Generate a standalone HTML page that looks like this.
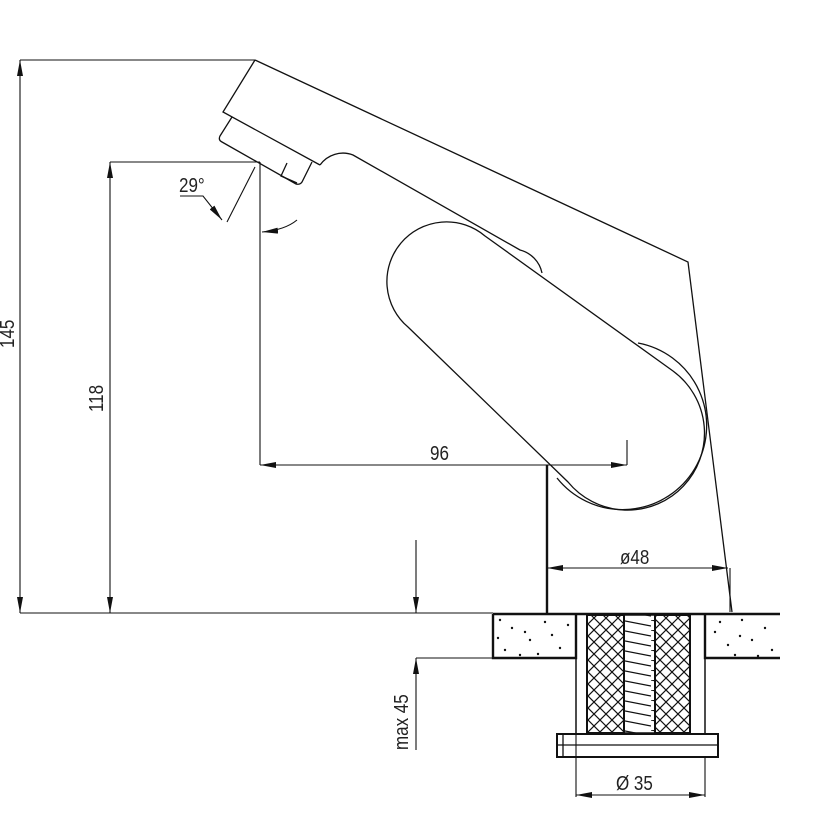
<!DOCTYPE html>
<html><head><meta charset="utf-8"><style>
html,body{margin:0;padding:0;background:#fff}
svg{display:block}
text{font-family:"Liberation Sans",sans-serif;font-size:20px;fill:#222}
</style></head><body>
<svg width="814" height="820" viewBox="0 0 814 820" xmlns="http://www.w3.org/2000/svg">
<defs>
<pattern id="xh" width="12" height="12" patternUnits="userSpaceOnUse">
<path d="M0,0 L12,12 M12,0 L0,12" stroke="#111" stroke-width="1.2"/>
</pattern>
<pattern id="th" width="31" height="10" patternUnits="userSpaceOnUse">
<path d="M0,0 L31,6" stroke="#111" stroke-width="1.2"/>
</pattern>
<marker id="a" markerWidth="16" markerHeight="6" refX="16" refY="3" orient="auto-start-reverse" markerUnits="userSpaceOnUse">
<path d="M0,0 L16,3 L0,6 Z" fill="#111"/>
</marker>
</defs>
<g fill="none" stroke="#111" stroke-width="1.3">
<path d="M255,60 L688,262 L732,612"/>
<path d="M255,60 L223,112 L320,165"/>
<path d="M232,117 L220,136 Q218,140 222,142 L296,184 Q300,185 302,182 L312,162"/>
<path d="M287,163 L281,176 L297,183"/>
<path d="M320,165 A28 28 0 0 1 353,155 L520,250 A30 30 0 0 1 542,273"/>
<path d="M485,236 L673,371 A77 77 0 1 1 568,482 L408,327 A59 59 0 1 1 485,236 Z"/>
<path d="M557,478 A84 84 0 1 0 638,343"/>
<g stroke-width="1.1">
<path d="M20,60 L255,60"/>
<path d="M20,60 L20,613" marker-start="url(#a)" marker-end="url(#a)"/>
<path d="M110,162 L260,162"/>
<path d="M110,162 L110,613" marker-start="url(#a)" marker-end="url(#a)"/>
<path d="M260,162 L260,465"/>
<path d="M260,465 L627,465" marker-start="url(#a)" marker-end="url(#a)"/>
<path d="M627,440 L627,465"/>
<path d="M227,222 L255,167"/>
<path d="M180,196 L203,196 L222,220" marker-end="url(#a)"/>
<path d="M297,220 Q285,230 262,232" marker-end="url(#a)"/>
<path d="M547,568 L728,568" marker-start="url(#a)" marker-end="url(#a)"/>
<path d="M730,568 L730,612"/>
<path d="M416,540 L416,613" marker-end="url(#a)"/>
<path d="M416,750 L416,658" marker-end="url(#a)"/>
<path d="M416,658 L493,658"/>
<path d="M20,613 L493,613"/>
<path d="M576,735 L576,797 M705,757 L705,797"/>
<path d="M576,795 L705,795" marker-start="url(#a)" marker-end="url(#a)"/>
</g>
<g stroke-width="2.4">
<path d="M547,465 L547,613"/>
<path d="M493,614 L780,614"/>
<path d="M493,614 L493,658 L576,658 L576,614"/>
<path d="M780,658 L705,658 L705,614"/>
</g>
<rect x="587" y="615" width="37" height="118" fill="url(#xh)" stroke-width="2"/>
<rect x="655" y="615" width="35" height="118" fill="url(#xh)" stroke-width="2"/>
<rect x="624" y="615" width="31" height="118" fill="url(#th)" stroke-width="1.5"/>
<path d="M576,614 L576,733 M705,614 L705,733" stroke-width="1.5"/>
<rect x="557" y="734" width="161" height="23" stroke-width="2"/>
<path d="M557,745 L718,745 M563,734 L563,757" stroke-width="1.3"/>
</g>
<g fill="#111">
<circle cx="500" cy="620" r="1.2"/><circle cx="512" cy="628" r="1.2"/><circle cx="530" cy="640" r="1.2"/><circle cx="545" cy="622" r="1.2"/><circle cx="560" cy="648" r="1.2"/><circle cx="505" cy="650" r="1.2"/><circle cx="552" cy="635" r="1.2"/><circle cx="568" cy="625" r="1.2"/><circle cx="520" cy="655" r="1.2"/><circle cx="538" cy="654" r="1.2"/><circle cx="525" cy="632" r="1.2"/><circle cx="498" cy="638" r="1.2"/>
<circle cx="715" cy="632" r="1.2"/><circle cx="728" cy="645" r="1.2"/><circle cx="742" cy="620" r="1.2"/><circle cx="752" cy="640" r="1.2"/><circle cx="765" cy="628" r="1.2"/><circle cx="772" cy="650" r="1.2"/><circle cx="735" cy="655" r="1.2"/><circle cx="720" cy="622" r="1.2"/><circle cx="758" cy="656" r="1.2"/><circle cx="740" cy="636" r="1.2"/>
</g>
<text transform="translate(179,192) scale(0.85,1)">29°</text>
<text transform="translate(430,460) scale(0.85,1)">96</text>
<text transform="translate(620,564) scale(0.85,1)">ø48</text>
<text transform="translate(616,790) scale(0.85,1)">Ø 35</text>
<text transform="translate(14,348) rotate(-90) scale(0.85,1)">145</text>
<text transform="translate(103,412) rotate(-90) scale(0.85,1)">118</text>
<text transform="translate(408,750) rotate(-90) scale(0.85,1)">max 45</text>
</svg>
</body></html>
